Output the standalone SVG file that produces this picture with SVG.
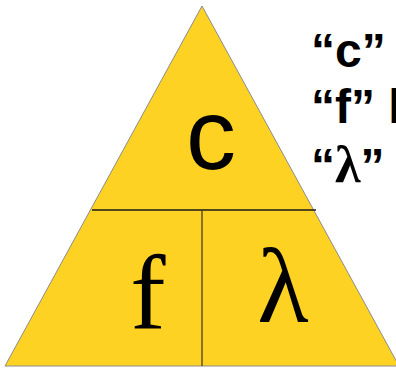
<svg xmlns="http://www.w3.org/2000/svg" width="396" height="369" viewBox="0 0 396 369">
<style>
.tri{fill:#FDD223;stroke:#8c8c8c;stroke-width:1}
.div{stroke:#1a1a1a;stroke-width:1.3}
.sans{font-family:"Liberation Sans",Arial,sans-serif;fill:#000}
.serif{font-family:"Liberation Serif","Times New Roman",serif;fill:#000}
.lbl{font-family:"Liberation Sans",Arial,sans-serif;font-weight:bold;font-size:48px;fill:#000}
.lam{font-family:"Liberation Serif","Times New Roman",serif;font-weight:bold}
</style>
<rect width="396" height="369" fill="#fff"/>
<g id="triangle">
<polygon class="tri" points="202,6 5,366 399,366"/>
</g>
<g id="connectors">
<line class="div" x1="92" y1="210" x2="316" y2="210"/>
<line class="div" x1="202" y1="210" x2="202" y2="366" style="stroke:#4a4020"/>
</g>
<g id="node-c">
<text class="sans" x="211" y="169" font-size="100" text-anchor="middle">c</text>
</g>
<g id="node-f">
<text class="serif" x="148" y="328" font-size="106" text-anchor="middle">f</text>
</g>
<g id="node-lambda">
<text class="serif" x="283" y="322" font-size="106" text-anchor="middle">λ</text>
</g>
<g id="labels">
<text class="lbl" x="311" y="67">“c”</text>
<text class="lbl" x="311" y="123">“f” l</text>
<text class="lbl" x="311" y="182">“<tspan class="lam" font-size="52">λ</tspan>”</text>
</g>
</svg>
